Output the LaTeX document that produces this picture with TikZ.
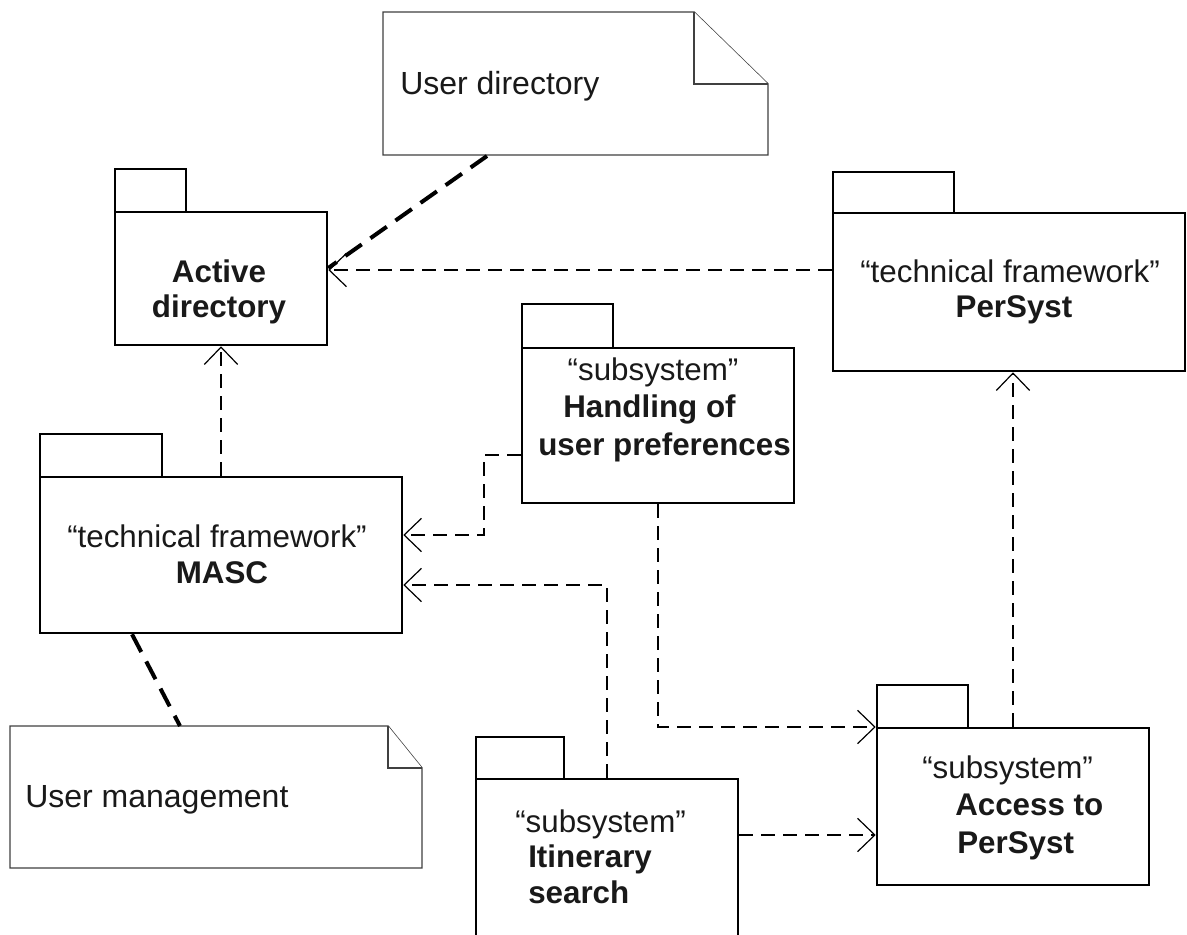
\documentclass[tikz,border=0pt]{standalone}
\usepackage{fontspec}
\setmainfont{Liberation Sans}
\usetikzlibrary{arrows.meta,fit}
\begin{document}
\begin{tikzpicture}[x={(0.75pt,0)}, y={(0,-0.75pt)},
  pkg/.style={draw=black, line width=1.9pt, inner sep=0pt, fill=white},
  notebox/.style={draw=black!75, line width=1.1pt, fill=white, line join=miter},
  lbl/.style={inner sep=0pt, text=black!90, font=\fontsize{23.5}{27}\selectfont},
  blbl/.style={lbl, font=\fontsize{23.5}{27}\selectfont\bfseries},
  nlbl/.style={inner sep=0pt, text=black!90, font=\fontsize{24}{28}\selectfont},
  dep/.style={line width=1.5pt, dash pattern=on 10.5pt off 6pt,
    -{Straight Barb[length=13pt,width=25pt,line width=0.9pt]}},
  nline/.style={line width=3pt, dash pattern=on 15pt off 8pt}]
\useasboundingbox (0,0) rectangle (1187,934);
\clip (0,0) rectangle (1187,934);

% notes
\draw[notebox] (383,12) -- (694,12) -- (768,84) -- (768,155) -- (383,155) -- cycle;
\draw[notebox] (694,12) -- (694,84) -- (768,84);
\node[nlbl, anchor=base west] (udtext) at (400,95) {User directory};
\coordinate (UDbot) at (487,156);

\draw[notebox] (10,726) -- (388,726) -- (422,768) -- (422,868) -- (10,868) -- cycle;
\draw[notebox] (388,726) -- (388,768) -- (422,768);
\node[nlbl, anchor=base west] (umtext) at (25,807) {User management};
\coordinate (UMtop) at (180,726);

% packages
\node[pkg, fit={(115,169) (186,212)}] (ADtab) {};
\node[pkg, fit={(115,212) (327,345)}] (AD) {};
\node[pkg, fit={(833,172) (954,213)}] (PStab) {};
\node[pkg, fit={(833,213) (1185,371)}] (PS) {};
\node[pkg, fit={(40,434) (162,477)}] (MAtab) {};
\node[pkg, fit={(40,477) (402,633)}] (MA) {};
\node[pkg, fit={(522,304) (613,348)}] (HUtab) {};
\node[pkg, fit={(522,348) (794,503)}] (HU) {};
\node[pkg, fit={(476,737) (564,779)}] (IStab) {};
\node[pkg, fit={(476,779) (738,960)}] (IS) {};
\node[pkg, fit={(877,685) (968,728)}] (APtab) {};
\node[pkg, fit={(877,728) (1149,885)}] (AP) {};

% texts
\node[blbl, anchor=base] (ad1) at (219,282) {Active};
\node[blbl, anchor=base] (ad2) at (219,317) {directory};
\node[lbl, anchor=base] (ps1) at (1010,282) {“technical framework”};
\node[blbl, anchor=base] (ps2) at (1014,317) {PerSyst};
\node[lbl, anchor=base] (ma1) at (217,547) {“technical framework”};
\node[blbl, anchor=base] (ma2) at (222,583) {MASC};
\node[lbl, anchor=base] (hu1) at (653,380) {“subsystem”};
\node[blbl, anchor=base west] (hu2) at (563,417) {Handling of};
\node[blbl, anchor=base west] (hu3) at (538,455) {user preferences};
\node[lbl, anchor=base west] (is1) at (515,832) {“subsystem”};
\node[blbl, anchor=base west] (is2) at (528,867) {Itinerary};
\node[blbl, anchor=base west] (is3) at (528,903) {search};
\node[lbl, anchor=base west] (ap1) at (922,778) {“subsystem”};
\node[blbl, anchor=base west] (ap2) at (955,815) {Access to};
\node[blbl, anchor=base west] (ap3) at (957,853) {PerSyst};

% note connectors
\draw[nline] (UDbot) -- (AD.east |- 0,268);
\draw[nline] (MA.south -| 132,0) -- (UMtop);

% dependencies
\draw[dep] (PS.west |- 0,270) -- (AD.east |- 0,270);
\draw[dep] (MA.north -| 221,0) -- (AD.south -| 221,0);
\draw[dep] (HU.west |- 0,455) -- (484,455) -- (484,535) -- (MA.east |- 0,535);
\draw[dep] (IS.north -| 607,0) -- (607,585) -- (MA.east |- 0,585);
\draw[dep] (HU.south -| 658,0) -- (658,727) -- (AP.west |- 0,727);
\draw[dep] (IS.east |- 0,835) -- (AP.west |- 0,835);
\draw[dep] (AP.north -| 1013,0) -- (PS.south -| 1013,0);
\end{tikzpicture}
\end{document}
